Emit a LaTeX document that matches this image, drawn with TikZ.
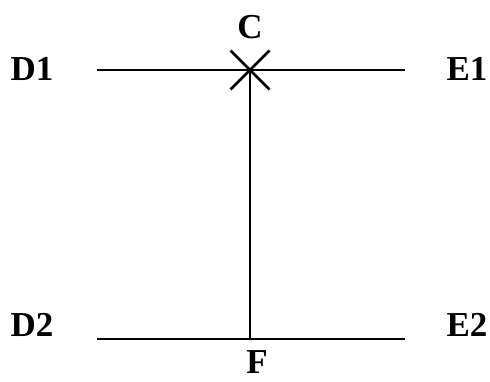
\documentclass[tikz,border=0pt]{standalone}
\usepackage{fontspec}
\setmainfont{Liberation Serif}
\usepackage{xcolor}
\definecolor{linecolor}{RGB}{0, 0, 0}

\begin{document}
\begin{tikzpicture}[
    x=1pt, y=1pt,
    beam/.style={draw=linecolor, line width=2.8pt},
    lbl/.style={font=\fontsize{35}{40}\selectfont\bfseries, inner sep=0pt}
]
\useasboundingbox (0,0) rectangle (490,381);
% points of the lines
\coordinate (d1) at (97,311);
\coordinate (e1) at (405,311);
\coordinate (c) at (250,311);
\coordinate (d2) at (97,42);
\coordinate (e2) at (405,42);
\coordinate (f) at (250,42);
% labels
\node[lbl] (labD1) at (32,312) {D1};
\node[lbl] (labE1) at (467,312) {E1};
\node[lbl] (labC) at (250,354) {C};
\node[lbl] (labD2) at (32,56) {D2};
\node[lbl] (labE2) at (467,56) {E2};
\node[lbl] (labF) at (257,19) {F};
% lines
\draw[beam] (d1) -- (e1);
\draw[beam] (d2) -- (e2);
\draw[beam] (c) -- (f);
\draw[beam] ([shift={(-19.5,-19.5)}]c) -- ([shift={(19.5,19.5)}]c);
\draw[beam] ([shift={(-19.5,19.5)}]c) -- ([shift={(19.5,-19.5)}]c);
\end{tikzpicture}
\end{document}
